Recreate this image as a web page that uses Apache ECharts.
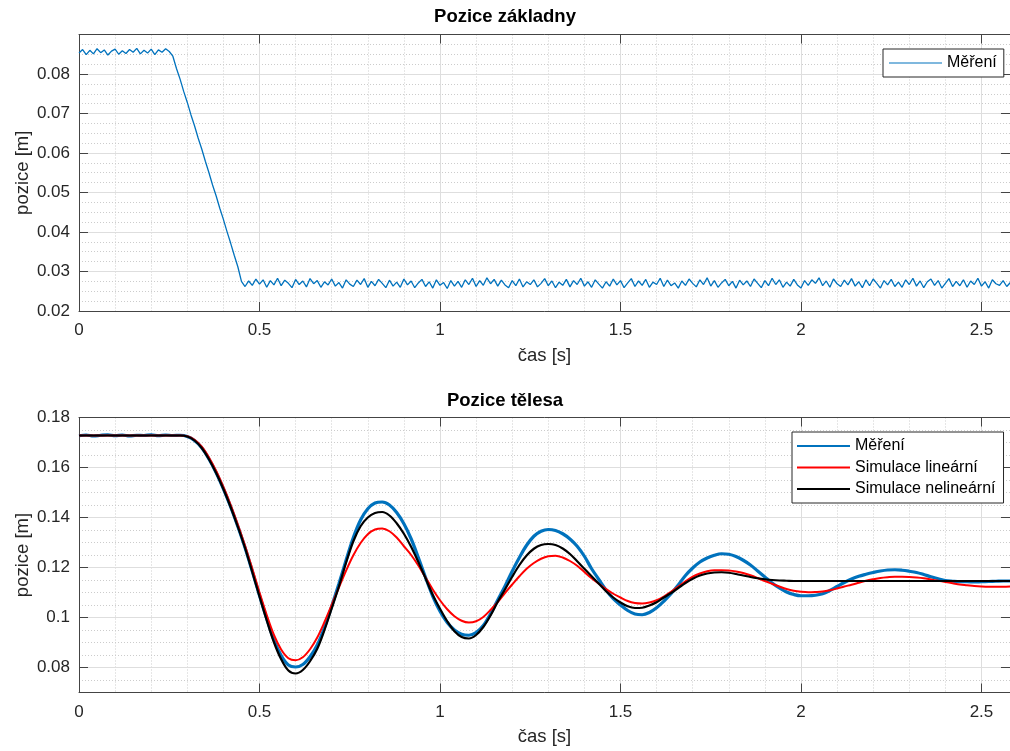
<!DOCTYPE html>
<html><head><meta charset="utf-8">
<script src="https://cdn.jsdelivr.net/npm/echarts/dist/echarts.min.js"></script>
<style>html,body{margin:0;padding:0;background:#fff}#c{width:1010px;height:751px}</style>
</head><body><div id="c"></div>
<script>
// ---- data ----
const topTitle = 'Pozice základny';
const botTitle = 'Pozice tělesa';
const xName = 'čas [s]';
const yName = 'pozice [m]';
const legMeas = 'Měření';
const legLin = 'Simulace lineární';
const legNonlin = 'Simulace nelineární';

const xTicks = [0, 0.5, 1, 1.5, 2, 2.5];
const topYTicks = [0.02, 0.03, 0.04, 0.05, 0.06, 0.07, 0.08];
const botYTicks = [0.08, 0.10, 0.12, 0.14, 0.16, 0.18];

const topStep = 0.01;   // s, sample spacing of top measurement
const botStep = 0.02;   // s, sample spacing of bottom curves

// Pozice základny – měření (t = 0 .. 2.58 s)
const topMeas = [
 0.0853,0.0862,0.0849,0.0860,0.0851,0.0864,0.0854,0.0861,0.0848,0.0858,
 0.0863,0.0850,0.0859,0.0852,0.0862,0.0855,0.0865,0.0851,0.0860,0.0853,
 0.0863,0.0849,0.0861,0.0855,0.0864,0.0857,
 0.0845,0.0814,0.0787,0.0756,0.0728,0.0697,0.0669,0.0638,0.0610,0.0579,
 0.0550,0.0519,0.0491,0.0460,0.0432,0.0401,0.0372,0.0341,0.0312,0.0275,
 0.0262,0.0276,0.0265,0.0281,0.0268,0.0279,0.0260,0.0277,0.0266,0.0283,
 0.0264,0.0278,0.0270,0.0259,0.0280,0.0267,0.0276,0.0261,0.0282,0.0269,
 0.0277,0.0260,0.0274,0.0266,0.0281,0.0263,0.0272,0.0258,0.0279,0.0268,
 0.0262,0.0278,0.0267,0.0282,0.0260,0.0275,0.0264,0.0280,0.0270,0.0259,
 0.0278,0.0263,0.0273,0.0260,0.0281,0.0266,0.0276,0.0259,0.0271,0.0280,
 0.0262,0.0274,0.0258,0.0279,0.0265,0.0272,0.0257,0.0277,0.0263,0.0275,
 0.0260,0.0279,0.0267,0.0283,0.0262,0.0277,0.0265,0.0284,0.0269,0.0280,
 0.0263,0.0278,0.0266,0.0259,0.0277,0.0264,0.0281,0.0261,0.0274,0.0267,
 0.0279,0.0261,0.0270,0.0282,0.0264,0.0276,0.0259,0.0273,0.0265,0.0280,
 0.0261,0.0277,0.0267,0.0283,0.0263,0.0274,0.0260,0.0279,0.0268,0.0258,
 0.0274,0.0263,0.0281,0.0266,0.0277,0.0259,0.0271,0.0282,0.0262,0.0276,
 0.0265,0.0280,0.0260,0.0273,0.0267,0.0283,0.0262,0.0278,0.0264,0.0271,
 0.0258,0.0276,0.0265,0.0281,0.0270,0.0261,0.0279,0.0267,0.0284,0.0263,
 0.0277,0.0260,0.0271,0.0280,0.0264,0.0275,0.0258,0.0278,0.0266,0.0276,
 0.0262,0.0281,0.0270,0.0259,0.0277,0.0264,0.0283,0.0267,0.0279,0.0260,
 0.0273,0.0263,0.0280,0.0266,0.0258,0.0277,0.0265,0.0279,0.0270,0.0284,
 0.0264,0.0276,0.0260,0.0281,0.0269,0.0262,0.0278,0.0266,0.0282,0.0263,
 0.0274,0.0259,0.0279,0.0264,0.0281,0.0270,0.0258,0.0277,0.0266,0.0280,
 0.0262,0.0273,0.0260,0.0279,0.0267,0.0283,0.0263,0.0276,0.0259,0.0274,
 0.0281,0.0265,0.0277,0.0258,0.0270,0.0282,0.0262,0.0275,0.0264,0.0279,
 0.0260,0.0276,0.0267,0.0283,0.0263,0.0274,0.0258,0.0279,0.0269,0.0265,
 0.0277,0.0262,0.0272
];

// Pozice tělesa – měření (t = 0 .. 2.58 s, krok 0.02 s)
const botMeas = [
 0.1727,0.1730,0.1726,0.1729,0.1731,0.1727,0.1730,0.1726,0.1729,0.1728,0.1731,0.1727,0.1730,0.1728,0.1729,
 0.1724,0.1708,0.1679,0.1634,0.1579,0.1515,0.1443,0.1364,0.1279,0.1185,
 0.1088,0.0995,0.0910,0.0848,0.0810,0.0802,0.0812,0.0843,0.0890,0.0960,
 0.1045,0.1135,0.1230,0.1320,0.1390,0.1435,0.1458,0.1462,0.1450,0.1420,
 0.1375,0.1315,0.1240,0.1160,0.1085,0.1025,0.0980,0.0950,0.0933,0.0929,
 0.0940,0.0968,0.1015,0.1070,0.1125,0.1185,0.1240,0.1289,0.1325,0.1345,
 0.1352,0.1348,0.1335,0.1314,0.1285,0.1245,0.1195,0.1152,0.1110,0.1075,
 0.1050,0.1028,0.1014,0.1011,0.1020,0.1039,0.1065,0.1095,0.1130,0.1168,
 0.1198,0.1222,0.1238,0.1249,0.1255,0.1253,0.1244,0.1229,0.1210,0.1186,
 0.1162,0.1138,0.1118,0.1102,0.1092,0.1087,0.1087,0.1089,0.1095,0.1108,
 0.1124,0.1140,0.1154,0.1165,0.1173,0.1180,0.1186,0.1190,0.1191,0.1189,
 0.1185,0.1180,0.1172,0.1163,0.1155,0.1148,0.1145,0.1143,0.1143,0.1142,
 0.1143,0.1144,0.1145,0.1146,0.1146
];

// Simulace lineární
const botLin = [
 0.1728,0.1728,0.1728,0.1728,0.1728,0.1728,0.1728,0.1728,0.1728,0.1728,0.1728,0.1728,0.1728,0.1728,0.1728,
 0.1725,0.1711,0.1683,0.1640,0.1586,0.1522,0.1451,0.1372,0.1287,0.1195,
 0.1100,0.1010,0.0930,0.0872,0.0837,0.0829,0.0841,0.0873,0.0920,0.0982,
 0.1050,0.1120,0.1188,0.1249,0.1298,0.1333,0.1352,0.1356,0.1345,0.1320,
 0.1285,0.1250,0.1208,0.1160,0.1112,0.1069,0.1033,0.1005,0.0987,0.0980,
 0.0985,0.1002,0.1030,0.1062,0.1098,0.1132,0.1165,0.1195,0.1218,0.1235,
 0.1245,0.1247,0.1240,0.1226,0.1207,0.1182,0.1157,0.1135,0.1114,0.1095,
 0.1080,0.1066,0.1058,0.1056,0.1060,0.1069,0.1084,0.1103,0.1124,0.1145,
 0.1163,0.1176,0.1185,0.1189,0.1189,0.1188,0.1184,0.1178,0.1169,0.1158,
 0.1146,0.1135,0.1124,0.1114,0.1107,0.1103,0.1101,0.1102,0.1104,0.1109,
 0.1116,0.1124,0.1131,0.1139,0.1147,0.1153,0.1158,0.1161,0.1163,0.1163,
 0.1162,0.1160,0.1157,0.1152,0.1147,0.1142,0.1137,0.1132,0.1129,0.1126,
 0.1124,0.1123,0.1123,0.1123,0.1124
];

// Simulace nelineární
const botNonlin = [
 0.1728,0.1728,0.1728,0.1728,0.1728,0.1728,0.1728,0.1728,0.1728,0.1728,0.1728,0.1728,0.1728,0.1728,0.1728,
 0.1724,0.1708,0.1678,0.1633,0.1578,0.1514,0.1442,0.1363,0.1278,0.1182,
 0.1084,0.0989,0.0901,0.0833,0.0788,0.0776,0.0790,0.0825,0.0875,0.0950,
 0.1036,0.1124,0.1220,0.1305,0.1365,0.1400,0.1418,0.1422,0.1408,0.1377,
 0.1335,0.1283,0.1222,0.1157,0.1090,0.1035,0.0985,0.0945,0.0922,0.0916,
 0.0930,0.0962,0.1008,0.1063,0.1112,0.1163,0.1210,0.1248,0.1275,0.1290,
 0.1294,0.1290,0.1276,0.1254,0.1225,0.1195,0.1165,0.1135,0.1105,0.1080,
 0.1060,0.1045,0.1038,0.1039,0.1048,0.1061,0.1080,0.1098,0.1118,0.1138,
 0.1155,0.1168,0.1176,0.1180,0.1181,0.1179,0.1174,0.1168,0.1162,0.1157,
 0.1153,0.1150,0.1148,0.1147,0.1146,0.1146,0.1146,0.1146,0.1146,0.1146,
 0.1146,0.1146,0.1146,0.1146,0.1146,0.1146,0.1146,0.1146,0.1146,0.1146,
 0.1146,0.1146,0.1146,0.1146,0.1146,0.1146,0.1146,0.1146,0.1146,0.1146,
 0.1146,0.1146,0.1146,0.1146,0.1146
];

// axis ranges / grid spacing
const xMin = 0, xMax = 2.579, xMajor = 0.5, xMinor = 0.1;
const topYMin = 0.02, topYMax = 0.09, topYMinor = 0.0025;
const botYMin = 0.07, botYMax = 0.18, botYMinor = 0.005;

// ---- chart ----
const FONT = '"Liberation Sans", Arial, Helvetica, sans-serif';
const AX = '#444444', TXT = '#262626';
const MAJ = '#dedede', MIN = '#cccccc';

function pairs(arr, step) { return arr.map((v, i) => [+(i * step).toFixed(4), v]); }

function xAxes(gi) {
  return [
    { type:'value', gridIndex:gi, min:xMin, max:xMax, interval:xMajor, position:'bottom',
      axisLine:{show:true, onZero:false, lineStyle:{color:AX, width:1}},
      axisTick:{show:true, inside:true, length:9, lineStyle:{color:AX}, customValues:xTicks},
      axisLabel:{show:true, margin:11, color:TXT, fontSize:17, fontFamily:FONT, customValues:xTicks},
      splitLine:{show:true, lineStyle:{color:MAJ, width:1}},
      name:xName, nameLocation:'middle', nameGap:35, nameMoveOverlap:false,
      nameTextStyle:{fontSize:18.5, color:TXT, fontFamily:FONT}, z:3 },
    { type:'value', gridIndex:gi, min:xMin, max:xMax, interval:xMajor, position:'top',
      axisLine:{show:true, onZero:false, lineStyle:{color:AX, width:1}},
      axisTick:{show:true, inside:true, length:9, lineStyle:{color:AX}, customValues:xTicks},
      axisLabel:{show:false, customValues:xTicks}, splitLine:{show:false}, z:3 },
    { type:'value', gridIndex:gi, min:xMin, max:xMax, interval:xMinor, position:'bottom',
      axisLine:{show:false}, axisTick:{show:false}, axisLabel:{show:false},
      splitLine:{show:true, lineStyle:{color:MIN, width:1, type:[1,2]}}, z:1 }
  ];
}
function yAxes(gi, mn, mx, ticks, mnr) {
  return [
    { type:'value', gridIndex:gi, min:mn, max:mx, position:'left',
      axisLine:{show:true, onZero:false, lineStyle:{color:AX, width:1}},
      axisTick:{show:true, inside:true, length:9, lineStyle:{color:AX}, customValues:ticks},
      axisLabel:{show:true, margin:9, color:TXT, fontSize:17, fontFamily:FONT, customValues:ticks},
      splitLine:{show:true, lineStyle:{color:MAJ, width:1}},
      name:yName, nameLocation:'middle', nameGap:47, nameRotate:90, nameMoveOverlap:false,
      nameTextStyle:{fontSize:18.5, color:TXT, fontFamily:FONT}, z:3 },
    { type:'value', gridIndex:gi, min:mn, max:mx, position:'right',
      axisLine:{show:true, onZero:false, lineStyle:{color:AX, width:1}},
      axisTick:{show:true, inside:true, length:9, lineStyle:{color:AX}, customValues:ticks},
      axisLabel:{show:false, customValues:ticks}, splitLine:{show:false}, z:3 },
    { type:'value', gridIndex:gi, min:mn, max:mx, interval:mnr, position:'left',
      axisLine:{show:false}, axisTick:{show:false}, axisLabel:{show:false},
      splitLine:{show:true, lineStyle:{color:MIN, width:1, type:[1,2]}}, z:1 }
  ];
}

const chart = echarts.init(document.getElementById('c'), null, {renderer:'canvas'});
chart.setOption({
  animation:false,
  backgroundColor:'#ffffff',
  title:[
    {text:topTitle, left:505, top:7, textAlign:'center', padding:0,
     textStyle:{fontSize:18.5, fontWeight:'bold', color:'#000', fontFamily:FONT}},
    {text:botTitle, left:505, top:391, textAlign:'center', padding:0,
     textStyle:{fontSize:18.5, fontWeight:'bold', color:'#000', fontFamily:FONT}}
  ],
  grid:[
    {left:79, top:34.5, width:931, height:276.5},
    {left:79, top:417.5, width:931, height:275}
  ],
  xAxis:[...xAxes(0), ...xAxes(1)],
  yAxis:[...yAxes(0, topYMin, topYMax, topYTicks, topYMinor),
         ...yAxes(1, botYMin, botYMax, botYTicks, botYMinor)],
  legend:[
    {data:[{name:legMeas}], orient:'vertical', left:883, top:49, padding:[6,7,6,6],
     icon:'rect', itemWidth:53, itemHeight:1.2, itemGap:0, selectedMode:false,
     textStyle:{fontSize:16, color:'#000', fontFamily:FONT},
     backgroundColor:'#fff', borderColor:'#262626', borderWidth:1, borderRadius:0},
    {data:[{name:legMeas}, {name:legLin}, {name:legNonlin}],
     orient:'vertical', left:792, top:432, padding:[6,8,6,5],
     icon:'rect', itemWidth:53, itemHeight:2.2, itemGap:5.5, selectedMode:false,
     textStyle:{fontSize:16, color:'#000', fontFamily:FONT},
     backgroundColor:'#fff', borderColor:'#262626', borderWidth:1, borderRadius:0}
  ],
  series:[
    {name:legMeas, type:'line', xAxisIndex:0, yAxisIndex:0, data:pairs(topMeas, topStep),
     showSymbol:false, symbol:'none', lineStyle:{color:'#0072BD', width:1.3}, itemStyle:{color:'#0072BD'}, z:5},
    {name:legMeas, type:'line', xAxisIndex:3, yAxisIndex:3, data:pairs(botMeas, botStep),
     showSymbol:false, symbol:'none', smooth:0.35, lineStyle:{color:'#0072BD', width:3.2}, itemStyle:{color:'#0072BD'}, z:5},
    {name:legLin, type:'line', xAxisIndex:3, yAxisIndex:3, data:pairs(botLin, botStep),
     showSymbol:false, symbol:'none', smooth:0.35, lineStyle:{color:'#FF0000', width:2}, itemStyle:{color:'#FF0000'}, z:6},
    {name:legNonlin, type:'line', xAxisIndex:3, yAxisIndex:3, data:pairs(botNonlin, botStep),
     showSymbol:false, symbol:'none', smooth:0.35, lineStyle:{color:'#000000', width:2.2}, itemStyle:{color:'#000000'}, z:7}
  ]
});
</script></body></html>
